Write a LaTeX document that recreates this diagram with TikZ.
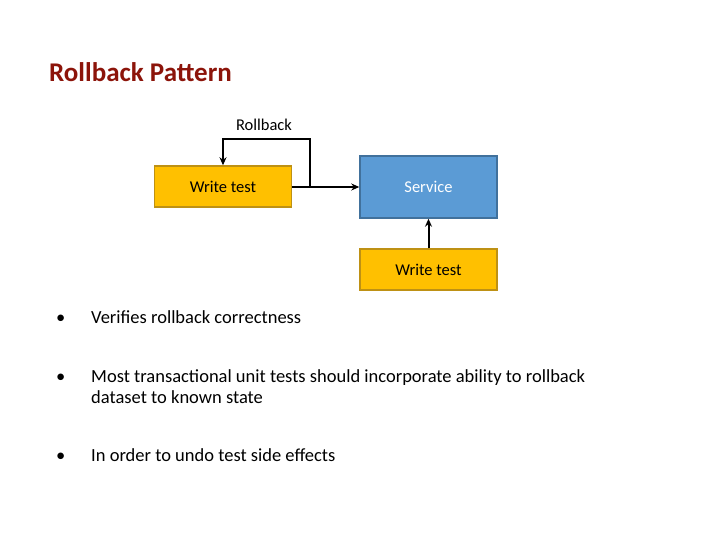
\documentclass[tikz,border=0pt]{standalone}
\usepackage{fontspec}
\setmainfont{Carlito}
\usetikzlibrary{arrows.meta}
\definecolor{ybox}{RGB}{255,192,0}
\definecolor{yedge}{RGB}{190,145,20}
\definecolor{bbox}{RGB}{91,155,213}
\definecolor{bedge}{RGB}{65,113,156}
\definecolor{ttl}{RGB}{140,20,10}
\begin{document}
\begin{tikzpicture}[x=1pt,y=-1pt,
  ybx/.style={draw=yedge,line width=1.5pt,fill=ybox,minimum width=137pt,minimum height=41pt,inner sep=0pt,font=\fontsize{16.5}{19}\selectfont},
  bbx/.style={draw=bedge,line width=1.5pt,fill=bbox,minimum width=137pt,minimum height=62pt,inner sep=0pt,text=white,font=\fontsize{16.5}{19}\selectfont},
  conn/.style={line width=2pt,-{Stealth[length=8pt,width=7pt]}},
  bul/.style={anchor=base west,font=\fontsize{18.5}{22}\selectfont,inner sep=0pt}]
\useasboundingbox (0,0) rectangle (720,540);
\node[anchor=base west,text=ttl,font=\fontsize{27}{32}\selectfont\bfseries,inner sep=0pt] (title) at (49,82) {Rollback Pattern};
\node[ybx] (w1) at (223,186.5) {Write test};
\node[bbx] (svc) at (428.5,187) {Service};
\node[ybx] (w2) at (428.5,269.5) {Write test};
\node[font=\fontsize{16.5}{19}\selectfont,inner sep=0pt] (rb) at (264,125) {Rollback};
\coordinate (j) at (310,187);
\draw[conn] (w1.east |- j) -- (svc.west |- j);
\draw[conn] (j) -- (310,139) -- (223,139) -- (w1.north);
\draw[conn] (w2.north) -- (svc.south);
\node[bul] (b1) at (56,323) {•};
\node[bul] (t1) at (91,323) {Verifies rollback correctness};
\node[bul] (b2) at (56,382) {•};
\node[bul] (t2) at (91,382) {Most transactional unit tests should incorporate ability to rollback};
\node[bul] (t2b) at (91,403) {dataset to known state};
\node[bul] (b3) at (56,461) {•};
\node[bul] (t3) at (91,461) {In order to undo test side effects};
\end{tikzpicture}
\end{document}
